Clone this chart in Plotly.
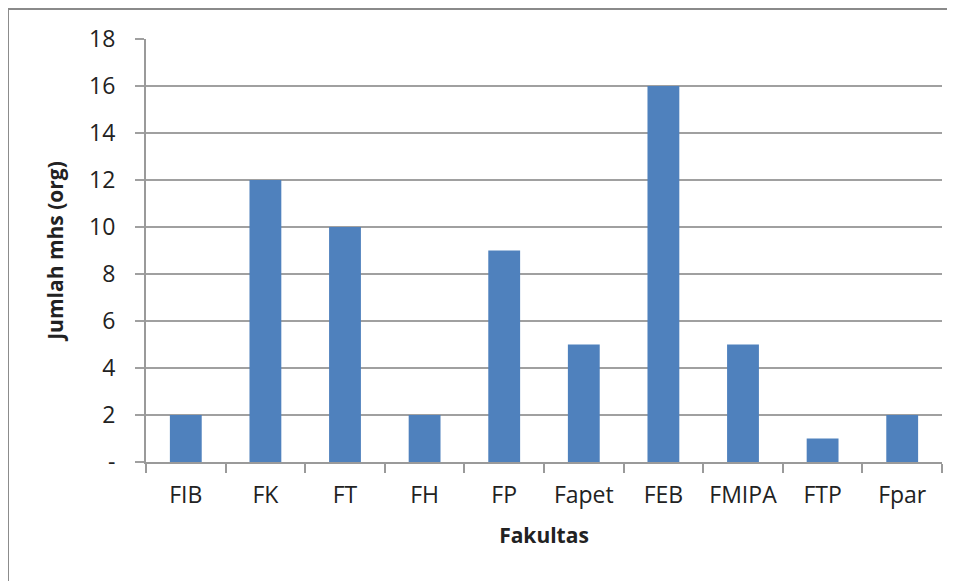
import plotly.graph_objects as go

# Jumlah mahasiswa per fakultas
fakultas = ["FIB", "FK", "FT", "FH", "FP", "Fapet", "FEB", "FMIPA", "FTP", "Fpar"]
jumlah = [2, 12, 10, 2, 9, 5, 16, 5, 1, 2]

y_ticks = [0, 2, 4, 6, 8, 10, 12, 14, 16, 18]
y_labels = ["-", "2", "4", "6", "8", "10", "12", "14", "16", "18"]

font_name = "Open Sans, sans-serif"

fig = go.Figure()
fig.add_trace(go.Bar(x=fakultas, y=jumlah, marker=dict(color="#4F81BD", line=dict(width=0))))

# page body has an 8px margin, so the margins are shifted to compensate
fig.update_layout(
    width=955, height=581,
    margin=dict(l=138, r=21, t=31, b=127),
    plot_bgcolor="white", paper_bgcolor="white",
    bargap=0.6, showlegend=False,
    font=dict(family=font_name, size=23, color="#222222"),
)

fig.update_xaxes(
    showgrid=False, showline=True, linecolor="#9a9a9a", linewidth=2,
    ticks="outside", tickson="boundaries", ticklen=9, tickcolor="#9a9a9a", tickwidth=2,
    tickfont=dict(size=23), ticklabelstandoff=11,
    title=dict(text="<b>Fakultas</b>", font=dict(size=21), standoff=20),
)
fig.update_yaxes(
    range=[0, 18], tickvals=y_ticks, ticktext=y_labels,
    showgrid=True, gridcolor="#a0a0a0", gridwidth=1.5,
    showline=True, linecolor="#9a9a9a", linewidth=2,
    ticks="outside", ticklen=9, tickcolor="#a0a0a0", tickwidth=1.5,
    tickfont=dict(size=23), ticklabelstandoff=15, zeroline=False,
    title=dict(text="<b>Jumlah mhs (org)</b>", font=dict(size=21), standoff=20),
)

# outer frame of the chart
fig.add_shape(type="rect", xref="paper", yref="paper",
              x0=-0.1734, x1=1.2, y0=-0.4, y1=1.0709,
              line=dict(color="#8a8a8a", width=2), layer="below")

fig.write_html("out.html")
